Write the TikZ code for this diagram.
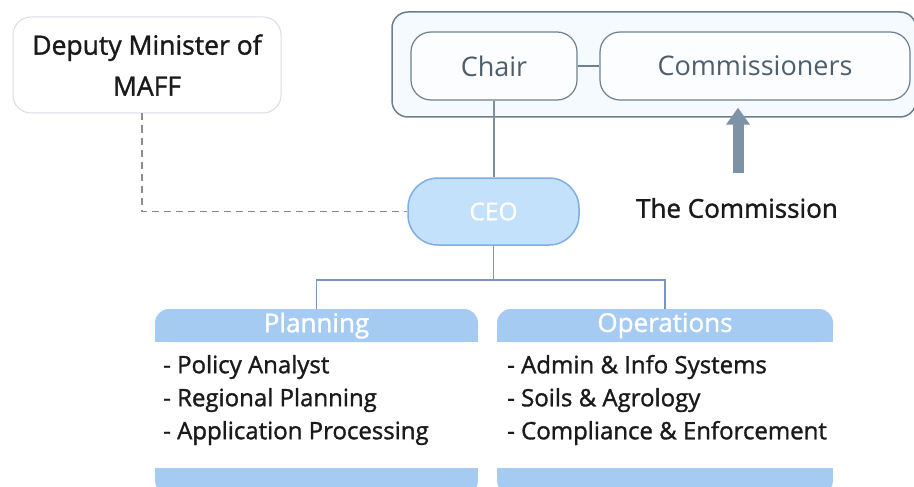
\documentclass[tikz,border=0pt]{standalone}
\usepackage{fontspec}
\setmainfont{Open Sans}
\newfontfamily\semib[FakeBold=1.3]{Open Sans}
\usetikzlibrary{arrows.meta}
\definecolor{hdrblue}{HTML}{A6CBF3}
\definecolor{ceofill}{HTML}{C3E1FA}
\definecolor{ceoedge}{HTML}{7EAEE5}
\definecolor{boxedge}{HTML}{6E808E}
\definecolor{boxtext}{HTML}{4E5E6A}
\definecolor{outerfill}{HTML}{F4FAFE}
\definecolor{depedge}{HTML}{DCDCE8}
\definecolor{arrowcol}{HTML}{7D92A6}
\definecolor{buscol}{HTML}{7A95C2}
\definecolor{dashcol}{HTML}{8C8C8C}
\definecolor{txt}{HTML}{1A1A1A}
\tikzset{
  depbox/.style={draw=depedge, line width=1pt, fill=white, rounded corners=18pt,
    minimum width=268pt, minimum height=96pt, align=center, text=txt,
    font=\semib\fontsize{26.5}{41}\selectfont},
  outerbox/.style={draw=boxedge, line width=1.5pt, fill=outerfill, rounded corners=16pt,
    minimum width=524pt, minimum height=105pt},
  innerbox/.style={draw=boxedge, line width=1.2pt, fill=white!60!outerfill, rounded corners=20pt,
    minimum height=68pt, text=boxtext, font=\fontsize{27}{30}\selectfont},
  ceobox/.style={draw=ceoedge, line width=1.5pt, fill=ceofill, rounded corners=30pt,
    minimum width=171pt, minimum height=67pt, text=white, font=\semib\fontsize{24.5}{28}\selectfont},
  hdrtext/.style={minimum height=33pt, text=white, font=\semib\fontsize{26}{30}\selectfont},
  items/.style={anchor=west, inner sep=0pt, align=left, text=txt, font=\semib\fontsize{24}{33}\selectfont},
  label/.style={text=txt, font=\semib\fontsize{26}{30}\selectfont},
  conn/.style={line width=1.5pt},
}
\begin{document}
\begin{tikzpicture}[x=1pt,y=-1pt]
\useasboundingbox (0,0) rectangle (914,487);
\clip (0,0) rectangle (914,487);
\fill[white] (0,0) rectangle (914,487);

% Deputy Minister
\node[depbox] (deputy) at (147,65) {Deputy Minister of\\MAFF};

% The Commission
\node[outerbox] (commission) at (654,64.5) {};
\node[innerbox, minimum width=166pt] (chair) at (494,66) {Chair};
\node[innerbox, minimum width=310pt] (comm) at (755,66) {Commissioners};
\draw[conn, draw=boxedge, line width=2pt] (chair.east) -- (comm.west);

% CEO
\node[ceobox] (ceo) at (493.5,211.5) {CEO};
\draw[conn, draw=boxedge!90!white] (chair.south) -- (chair.south |- ceo.north);

% Arrow and label
\node[label] (commlabel) at (737,208) {The Commission};
\coordinate (arrowbase) at (738,173);
\draw[draw=arrowcol, line width=11pt, -{Triangle[width=23pt,length=17pt]}]
  (arrowbase) -- ([yshift=10pt]arrowbase |- commission.south);

% Dashed connector
\coordinate (dtop) at ([xshift=-5pt]deputy.south);
\draw[draw=dashcol, line width=1.5pt, dash pattern=on 7pt off 5pt]
  (dtop) -- (dtop |- ceo.west) -- (ceo.west);

% Department headers and bars
\fill[hdrblue, rounded corners=14pt] (155,309) rectangle (478,342);
\fill[hdrblue] (155,325) rectangle (478,342);
\fill[hdrblue, rounded corners=12pt] (155,468) rectangle (478,493);
\fill[hdrblue] (155,468) rectangle (478,478);
\fill[hdrblue, rounded corners=14pt] (497,309) rectangle (833,342);
\fill[hdrblue] (497,325) rectangle (833,342);
\fill[hdrblue, rounded corners=12pt] (497,468) rectangle (833,493);
\fill[hdrblue] (497,468) rectangle (833,478);
\node[hdrtext, minimum width=323pt] (plan) at (316.5,325.5) {Planning};
\node[hdrtext, minimum width=336pt] (ops) at (665,325.5) {Operations};

\node[items] (planitems) at (163,400) {- Policy Analyst\\- Regional Planning\\- Application Processing};
\node[items] (opsitems) at (507,400) {- Admin \& Info Systems\\- Soils \& Agrology\\- Compliance \& Enforcement};

% CEO to departments
\coordinate (bus) at (ceo.south |- 0,280);
\draw[conn, draw=buscol] (ceo.south) -- (bus);
\draw[conn, draw=buscol] (plan.north) |- (bus) -| (ops.north);
\end{tikzpicture}
\end{document}
